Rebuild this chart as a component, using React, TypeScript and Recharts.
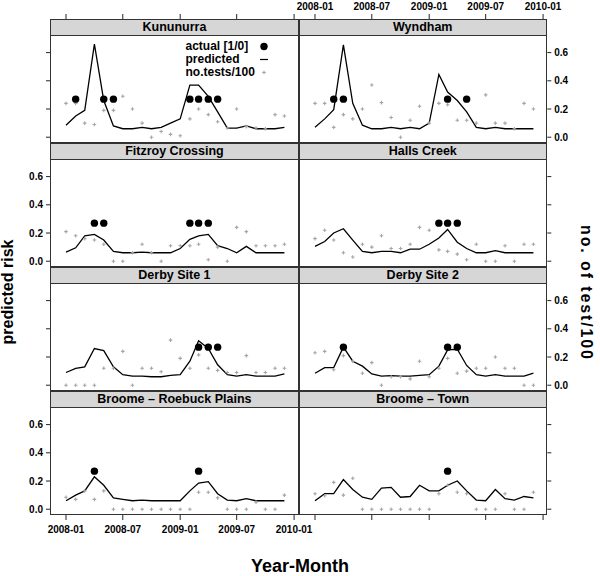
import { ComposedChart, Line, Scatter, XAxis, YAxis } from 'recharts';

const months = [
  '2008-01', '2008-02', '2008-03', '2008-04', '2008-05', '2008-06',
  '2008-07', '2008-08', '2008-09', '2008-10', '2008-11', '2008-12',
  '2009-01', '2009-02', '2009-03', '2009-04', '2009-05', '2009-06',
  '2009-07', '2009-08', '2009-09', '2009-10', '2009-11', '2009-12',
];
const xTickLabels = ['2008-01', '2008-07', '2009-01', '2009-07', '2010-01'];
const riskTicks = [0, 0.2, 0.4, 0.6];

// predicted risk, actual positive (1/0), number of tests / 100
const kununurraPred = [0.085, 0.15, 0.19, 0.66, 0.26, 0.08, 0.06, 0.06, 0.07, 0.06, 0.07, 0.1, 0.13, 0.37, 0.37, 0.29, 0.18, 0.065, 0.065, 0.08, 0.06, 0.06, 0.06, 0.07];
const kununurraActual = [0, 1, 0, 0, 1, 1, 0, 0, 0, 0, 0, 0, 0, 1, 1, 1, 1, 0, 0, 0, 0, 0, 0, 0];
const kununurraTests = [0.24, 0.24, 0.1, 0.09, 0.19, 0.19, 0.29, 0.2, 0.1, 0.0, 0.04, 0.02, 0.01, 0.13, 0.2, 0.16, 0.11, 0.065, 0.2, 0.075, 0.065, 0.06, 0.16, 0.15];

const wyndhamPred = [0.07, 0.13, 0.195, 0.655, 0.24, 0.085, 0.06, 0.06, 0.07, 0.06, 0.07, 0.06, 0.1, 0.445, 0.32, 0.26, 0.18, 0.07, 0.06, 0.07, 0.06, 0.06, 0.06, 0.06];
const wyndhamActual = [0, 0, 1, 1, 0, 0, 0, 0, 0, 0, 0, 0, 0, 0, 1, 0, 1, 0, 0, 0, 0, 0, 0, 0];
const wyndhamTests = [0.24, 0.24, 0.07, 0.16, 0.13, 0.2, 0.37, 0.245, 0.14, 0.0, 0.12, 0.22, 0.1, 0.24, 0.23, 0.12, 0.12, 0.1, 0.3, 0.1, 0.1, 0.06, 0.24, 0.2];

const fitzroyPred = [0.065, 0.095, 0.18, 0.19, 0.15, 0.07, 0.06, 0.06, 0.065, 0.06, 0.06, 0.06, 0.09, 0.155, 0.18, 0.19, 0.11, 0.09, 0.06, 0.105, 0.06, 0.06, 0.06, 0.06];
const fitzroyActual = [0, 0, 0, 1, 1, 0, 0, 0, 0, 0, 0, 0, 0, 1, 1, 1, 0, 0, 0, 0, 0, 0, 0, 0];
const fitzroyTests = [0.21, 0.18, 0.16, 0.15, 0.12, 0.0, 0.0, 0.06, 0.12, 0.06, 0.0, 0.11, 0.11, 0.11, 0.12, 0.01, 0.1, 0.0, 0.24, 0.21, 0.11, 0.11, 0.11, 0.12];

const hallsPred = [0.105, 0.14, 0.2, 0.23, 0.15, 0.07, 0.06, 0.07, 0.07, 0.06, 0.085, 0.085, 0.12, 0.165, 0.225, 0.135, 0.09, 0.06, 0.06, 0.075, 0.06, 0.06, 0.06, 0.06];
const hallsActual = [0, 0, 0, 0, 0, 0, 0, 0, 0, 0, 0, 0, 0, 1, 1, 1, 0, 0, 0, 0, 0, 0, 0, 0];
const hallsTests = [0.16, 0.22, 0.15, 0.06, 0.03, 0.12, 0.1, 0.18, 0.09, 0.09, 0.12, 0.24, 0.22, 0.08, 0.07, 0.05, 0.01, 0.12, 0.0, 0.0, 0.11, 0.0, 0.12, 0.12];

const derby1Pred = [0.09, 0.12, 0.13, 0.26, 0.245, 0.13, 0.075, 0.065, 0.065, 0.06, 0.06, 0.07, 0.075, 0.17, 0.315, 0.26, 0.145, 0.075, 0.065, 0.075, 0.065, 0.065, 0.065, 0.08];
const derby1Actual = [0, 0, 0, 0, 0, 0, 0, 0, 0, 0, 0, 0, 0, 0, 1, 1, 1, 0, 0, 0, 0, 0, 0, 0];
const derby1Tests = [0.0, 0.0, 0.0, 0.0, 0.12, 0.12, 0.24, 0.0, 0.12, 0.12, 0.095, 0.32, 0.19, 0.12, 0.215, 0.12, 0.105, 0.09, 0.09, 0.21, 0.09, 0.09, 0.12, 0.12];

const derby2Pred = [0.085, 0.125, 0.125, 0.27, 0.17, 0.135, 0.08, 0.065, 0.068, 0.065, 0.065, 0.07, 0.075, 0.135, 0.25, 0.255, 0.14, 0.075, 0.065, 0.075, 0.065, 0.065, 0.065, 0.085];
const derby2Actual = [0, 0, 0, 1, 0, 0, 0, 0, 0, 0, 0, 0, 0, 0, 1, 1, 0, 0, 0, 0, 0, 0, 0, 0];
const derby2Tests = [0.23, 0.24, 0.11, 0.21, 0.17, 0.085, 0.16, 0.0, 0.06, 0.06, 0.045, 0.17, 0.06, 0.12, 0.19, 0.085, 0.1, 0.12, 0.12, 0.2, 0.12, 0.12, 0.0, 0.0];

const roebuckPred = [0.06, 0.1, 0.13, 0.23, 0.17, 0.08, 0.07, 0.06, 0.065, 0.06, 0.06, 0.06, 0.06, 0.13, 0.185, 0.195, 0.11, 0.065, 0.06, 0.075, 0.06, 0.06, 0.06, 0.06];
const roebuckActual = [0, 0, 0, 1, 0, 0, 0, 0, 0, 0, 0, 0, 0, 0, 1, 0, 0, 0, 0, 0, 0, 0, 0, 0];
const roebuckTests = [0.085, 0.07, 0.13, 0.07, 0.13, 0.0, 0.0, 0.0, 0.0, 0.0, 0.0, 0.0, 0.0, 0.0, 0.12, 0.12, 0.08, 0.0, 0.0, 0.0, 0.05, 0.0, 0.0, 0.1];

const townPred = [0.06, 0.11, 0.11, 0.21, 0.14, 0.085, 0.07, 0.15, 0.155, 0.085, 0.09, 0.17, 0.13, 0.13, 0.17, 0.2, 0.13, 0.065, 0.06, 0.14, 0.075, 0.065, 0.09, 0.08];
const townActual = [0, 0, 0, 0, 0, 0, 0, 0, 0, 0, 0, 0, 0, 0, 1, 0, 0, 0, 0, 0, 0, 0, 0, 0];
const townTests = [0.11, 0.095, 0.19, 0.1, 0.22, 0.0, 0.0, 0.0, 0.0, 0.0, 0.0, 0.0, 0.0, 0.11, 0.17, 0.12, 0.11, 0.0, 0.0, 0.0, 0.11, 0.0, 0.0, 0.12];

const panels = [
  { name: 'Kununurra', pred: kununurraPred, actual: kununurraActual, tests: kununurraTests },
  { name: 'Wyndham', pred: wyndhamPred, actual: wyndhamActual, tests: wyndhamTests },
  { name: 'Fitzroy Crossing', pred: fitzroyPred, actual: fitzroyActual, tests: fitzroyTests },
  { name: 'Halls Creek', pred: hallsPred, actual: hallsActual, tests: hallsTests },
  { name: 'Derby Site 1', pred: derby1Pred, actual: derby1Actual, tests: derby1Tests },
  { name: 'Derby Site 2', pred: derby2Pred, actual: derby2Actual, tests: derby2Tests },
  { name: 'Broome \u2013 Roebuck Plains', pred: roebuckPred, actual: roebuckActual, tests: roebuckTests },
  { name: 'Broome \u2013 Town', pred: townPred, actual: townActual, tests: townTests },
];

// positives are drawn at this height on the risk scale
const ACTUAL_Y = 0.27;

const FONT = '"Liberation Sans", Arial, Helvetica, sans-serif';
const COL_LEFT = [50.3, 298.6];
const PLOT_W = 248.3;
const ROW_TOP = 18.5;
const ROW_H = 124;
const STRIP_H = 17;
const AXIS_W = 40;
const AXIS_H = 30;
const PAD = 30; // room for tick labels that hang past the plot edge
const X_DOMAIN = [-51.3, 744.5];
const Y_DOMAIN = [-0.0411, 0.8383];

const dayOf = (m: string) =>
  (Date.UTC(+m.slice(0, 4), +m.slice(5, 7) - 1, 1) - Date.UTC(2008, 0, 1)) / 86400000;

const xTickValues = xTickLabels.map(dayOf);
const xLabelFor = (v: number) => xTickLabels[xTickValues.indexOf(v)] ?? '';

const tickStyle = { fontSize: 10, fontWeight: 'bold', fill: '#000', fontFamily: FONT };

const Dot = (p: any) => <circle cx={p.cx} cy={p.cy} r={3.7} fill="#000" />;
const TestMark = (p: any) => (
  <g stroke="#a6a6a6" strokeWidth={1.1}>
    <line x1={p.cx - 1.8} y1={p.cy} x2={p.cx + 1.8} y2={p.cy} />
    <line x1={p.cx} y1={p.cy - 1.8} x2={p.cx} y2={p.cy + 1.8} />
  </g>
);

function Panel({ idx }: { idx: number }) {
  const p = panels[idx];
  const row = Math.floor(idx / 2);
  const col = idx % 2;
  const lineData = months.map((m, i) => ({ t: dayOf(m), pred: p.pred[i] }));
  const actualPts = months
    .map((m, i) => ({ t: dayOf(m), y: p.actual[i] ? ACTUAL_Y : null }))
    .filter((d) => d.y !== null);
  const testPts = months.map((m, i) => ({ t: dayOf(m), y: p.tests[i] }));

  const topAxis = row === 0;
  const bottomAxis = row === 3;
  const yLabels = (col === 0 && row % 2 === 1) || (col === 1 && row % 2 === 0);
  const xLabels = (topAxis && col === 1) || (bottomAxis && col === 0);

  const top = ROW_TOP + row * ROW_H - (topAxis ? AXIS_H : 0);
  const left = col === 0 ? COL_LEFT[0] - AXIS_W : COL_LEFT[1] - PAD;
  const width = PLOT_W + AXIS_W + PAD;
  const height = ROW_H + (topAxis || bottomAxis ? AXIS_H : 0);
  const margin = col === 0
    ? { top: 0, right: PAD, bottom: 0, left: 0 }
    : { top: 0, right: 0, bottom: 0, left: PAD };

  return (
    <div style={{ position: 'absolute', left, top, width, height }}>
      <ComposedChart width={width} height={height} data={lineData} margin={margin}>
        <XAxis
          type="number"
          dataKey="t"
          domain={X_DOMAIN}
          allowDataOverflow
          ticks={xTickValues}
          orientation={topAxis ? 'top' : 'bottom'}
          hide={!topAxis && !bottomAxis}
          height={AXIS_H}
          axisLine={false}
          tickSize={5}
          tickMargin={topAxis ? 4 : 6}
          tickLine={{ stroke: '#222' }}
          tick={tickStyle}
          tickFormatter={(v: number) => (xLabels ? xLabelFor(v) : '')}
          interval={0}
        />
        <YAxis
          type="number"
          domain={Y_DOMAIN}
          allowDataOverflow
          ticks={riskTicks}
          orientation={col === 0 ? 'left' : 'right'}
          width={AXIS_W}
          axisLine={false}
          tickSize={4}
          tickMargin={3}
          tickLine={{ stroke: '#222' }}
          tick={tickStyle}
          tickFormatter={(v: number) => (yLabels ? v.toFixed(1) : '')}
          interval={0}
        />
        <Scatter data={testPts} dataKey="y" shape={TestMark} isAnimationActive={false} />
        <Line
          dataKey="pred"
          stroke="#000"
          strokeWidth={1.3}
          dot={false}
          activeDot={false}
          isAnimationActive={false}
        />
        <Scatter data={actualPts} dataKey="y" shape={Dot} isAnimationActive={false} />
      </ComposedChart>
    </div>
  );
}

function Frame({ idx }: { idx: number }) {
  const row = Math.floor(idx / 2);
  const col = idx % 2;
  const left = COL_LEFT[col];
  const top = ROW_TOP + row * ROW_H;
  return (
    <>
      <div
        style={{
          position: 'absolute',
          left,
          top,
          width: PLOT_W,
          height: STRIP_H,
          background: '#d6d6d6',
          borderBottom: '1px solid #333',
          boxSizing: 'border-box',
          textAlign: 'center',
          fontFamily: FONT,
          fontWeight: 'bold',
          fontSize: 12.5,
          lineHeight: `${STRIP_H}px`,
          color: '#000',
        }}
      >
        {panels[idx].name}
      </div>
      <div
        style={{
          position: 'absolute',
          left,
          top,
          width: PLOT_W,
          height: ROW_H,
          border: '1px solid #333',
          boxSizing: 'border-box',
          pointerEvents: 'none',
        }}
      />
    </>
  );
}

function Key() {
  const rows = [
    { label: 'actual [1/0]', mark: <circle cx={5} cy={6.5} r={3.7} fill="#000" /> },
    { label: 'predicted', mark: <line x1={1} y1={6.5} x2={9} y2={6.5} stroke="#000" strokeWidth={1.2} /> },
    {
      label: 'no.tests/100',
      mark: (
        <g stroke="#a6a6a6" strokeWidth={1.1}>
          <line x1={3.2} y1={6.5} x2={6.8} y2={6.5} />
          <line x1={5} y1={4.7} x2={5} y2={8.3} />
        </g>
      ),
    },
  ];
  return (
    <div style={{ position: 'absolute', left: 185.5, top: 40, fontFamily: FONT, fontWeight: 'bold', fontSize: 12 }}>
      {rows.map((r) => (
        <div key={r.label} style={{ display: 'flex', height: 13, lineHeight: '13px', alignItems: 'center' }}>
          <span style={{ width: 73 }}>{r.label}</span>
          <svg width={10} height={13}>{r.mark}</svg>
        </div>
      ))}
    </div>
  );
}

export default function App() {
  return (
    <div style={{ position: 'absolute', left: 0, top: 0, width: 600, height: 576, background: '#fff', overflow: 'hidden' }}>
      {panels.map((_, i) => (
        <Panel key={`p${i}`} idx={i} />
      ))}
      {panels.map((_, i) => (
        <Frame key={`f${i}`} idx={i} />
      ))}
      <Key />
      <svg width={600} height={576} style={{ position: 'absolute', left: 0, top: 0, pointerEvents: 'none' }}>
        <text
          x={13}
          y={292}
          transform="rotate(-90 13 292)"
          textAnchor="middle"
          fontFamily={FONT}
          fontWeight="bold"
          fontSize={16}
        >
          predicted risk
        </text>
        <text
          x={581}
          y={292}
          transform="rotate(90 581 292)"
          textAnchor="middle"
          fontFamily={FONT}
          fontWeight="bold"
          fontSize={16}
          textLength={134}
          lengthAdjust="spacing"
        >
          no. of test/100
        </text>
        <text x={300} y={571.5} textAnchor="middle" fontFamily={FONT} fontWeight="bold" fontSize={18}>
          Year-Month
        </text>
      </svg>
    </div>
  );
}
